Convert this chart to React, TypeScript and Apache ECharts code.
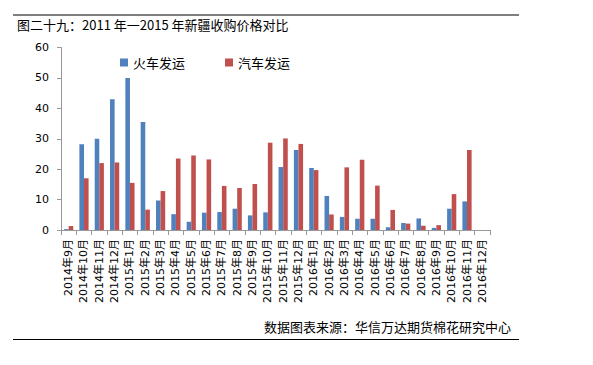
import React, { useEffect, useRef } from "react";
import * as echarts from "echarts";

const categories = [
  "2014年9月", "2014年10月", "2014年11月", "2014年12月",
  "2015年1月", "2015年2月", "2015年3月", "2015年4月", "2015年5月", "2015年6月",
  "2015年7月", "2015年8月", "2015年9月", "2015年10月", "2015年11月", "2015年12月",
  "2016年1月", "2016年2月", "2016年3月", "2016年4月", "2016年5月", "2016年6月",
  "2016年7月", "2016年8月", "2016年9月", "2016年10月", "2016年11月", "2016年12月",
];

const trainValues: (number | null)[] = [
  0.3, 28.2, 30, 43, 50, 35.5, 9.7, 5.2, 2.7, 5.7,
  5.9, 7.0, 4.8, 5.8, 20.7, 26.3, 20.4, 11.2, 4.3, 3.7,
  3.7, 0.9, 2.3, 3.8, 0.7, 7.0, 9.4, null,
];

const truckValues: (number | null)[] = [
  1.3, 17, 22, 22.2, 15.5, 6.7, 12.8, 23.5, 24.5, 23.2,
  14.5, 13.8, 15.1, 28.7, 30.1, 28.3, 19.7, 5.1, 20.6, 23.1,
  14.6, 6.6, 2.1, 1.4, 1.6, 11.8, 26.3, null,
];

const yTicks = [0, 10, 20, 30, 40, 50, 60];

const seriesNames = ["火车发运", "汽车发运"];
const titleText = "图二十九：2011 年一2015 年新疆收购价格对比";
const sourceText = "数据图表来源：华信万达期货棉花研究中心";

export default function App() {
  const ref = useRef<HTMLDivElement>(null);
  useEffect(() => {
    if (!ref.current) return;
    const chart = echarts.init(ref.current, null, { renderer: "svg" });
    const font = "'Noto Sans CJK SC', 'DejaVu Sans', sans-serif";
    const axisFont = "'DejaVu Sans', 'Noto Sans CJK SC', sans-serif";
    chart.setOption({
      animation: false,
      backgroundColor: "#ffffff",
      textStyle: { fontFamily: font },
      legend: {
        data: seriesNames,
        left: 115,
        top: 51,
        itemWidth: 8,
        itemHeight: 8,
        itemGap: 40,
        icon: "rect",
        textStyle: { fontSize: 13, color: "#000", fontFamily: font },
      },
      grid: { left: 61, right: 103, top: 47.5, bottom: 135 },
      xAxis: {
        type: "category",
        data: categories,
        axisLine: { lineStyle: { color: "#999", width: 1 } },
        axisTick: { show: true, alignWithLabel: false, length: 5, lineStyle: { color: "#999" } },
        axisLabel: {
          rotate: 90,
          interval: 0,
          fontSize: 11,
          color: "#000",
          margin: 9,
          fontFamily: axisFont,
        },
      },
      yAxis: {
        type: "value",
        min: yTicks[0],
        max: yTicks[yTicks.length - 1],
        interval: 10,
        splitLine: { show: false },
        axisLine: { show: true, lineStyle: { color: "#999", width: 1 } },
        axisTick: { show: true, inside: false, length: 4, lineStyle: { color: "#999" } },
        axisLabel: { fontSize: 11, color: "#000", margin: 12, fontFamily: axisFont },
      },
      series: [
        {
          name: seriesNames[0],
          type: "bar",
          data: trainValues,
          barWidth: 4.6,
          barGap: "0%",
          itemStyle: { color: "#4F81BD" },
        },
        {
          name: seriesNames[1],
          type: "bar",
          data: truckValues,
          barWidth: 4.6,
          barGap: "0%",
          itemStyle: { color: "#C0504D" },
        },
      ],
      graphic: [
        {
          type: "line",
          shape: { x1: 13, y1: 15, x2: 519, y2: 15 },
          style: { stroke: "#000", lineWidth: 1 },
        },
        {
          type: "line",
          shape: { x1: 13, y1: 339.5, x2: 519, y2: 339.5 },
          style: { stroke: "#000", lineWidth: 1 },
        },
        {
          type: "text",
          left: 17,
          top: 18,
          style: { text: titleText, fontSize: 13, fill: "#000", fontFamily: font },
        },
        {
          type: "text",
          right: 82,
          top: 320,
          style: { text: sourceText, fontSize: 13, fill: "#000", fontFamily: font },
        },
      ],
    });
    return () => chart.dispose();
  }, []);
  return (
    <div
      ref={ref}
      style={{ position: "fixed", left: 0, top: 0, width: 593, height: 365, background: "#fff" }}
    />
  );
}
